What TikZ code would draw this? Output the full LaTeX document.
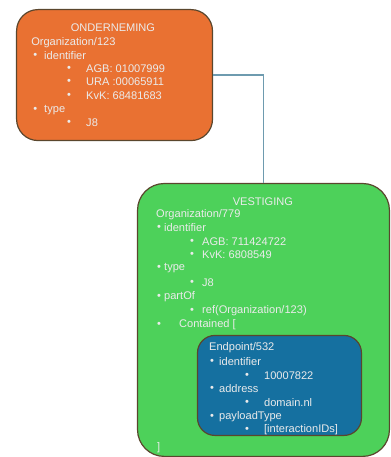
\documentclass[tikz,border=0pt]{standalone}
\usepackage{fontspec}
\setmainfont{Liberation Sans}
\usepackage{xcolor}
\definecolor{ondOrange}{RGB}{233,113,50}
\definecolor{vestGreen}{RGB}{77,209,90}
\definecolor{endpBlue}{RGB}{21,112,160}
\definecolor{boxEdge}{RGB}{90,70,45}
\definecolor{connLine}{RGB}{110,155,175}

\begin{document}
\begin{tikzpicture}[x=0.75pt,y=0.75pt,yscale=-1,xscale=1,
  box/.style={draw=boxEdge, line width=0.9pt, rounded corners=16pt, anchor=north west, inner sep=0pt},
  txt/.style={anchor=west, inner sep=0.75pt, text=white!92!black, font=\fontsize{8.3}{10}\selectfont},
  ttl/.style={txt, anchor=center}]
\path (0,0) rectangle (390,457); %set diagram size 390 x 457

%Rounded Rect [ONDERNEMING]
\node (ond) [box, fill=ondOrange, minimum width=147pt, minimum height=98.25pt] at (16,9) {};
%Rounded Rect [VESTIGING]
\node (vest) [box, fill=vestGreen, rounded corners=20pt, minimum width=189pt, minimum height=204.75pt] at (137,183) {};
%Rounded Rect [Endpoint]
\node (endp) [box, fill=endpBlue, rounded corners=13pt, minimum width=123pt, minimum height=75pt] at (197,335) {};

%Connector
\draw [connLine, line width=0.9pt] (ond.east) -| (vest.north);

% Text Node
\node (ondT) [ttl] at (113,28) {ONDERNEMING};
\node (ondO) [txt] at (30,43) {Organization/123};
\node (ondB1) [txt] at (32,56) {•};
\node (ondI) [txt] at (43,56) {identifier};
\node (ondB2) [txt] at (66,69) {•};
\node (ondAgb) [txt] at (85,69) {AGB: 01007999};
\node (ondB3) [txt] at (66,82) {•};
\node (ondUra) [txt] at (85,82) {URA :00065911};
\node (ondB4) [txt] at (66,96) {•};
\node (ondKvk) [txt] at (85,96) {KvK: 68481683};
\node (ondB5) [txt] at (32,110) {•};
\node (ondTy) [txt] at (43,110) {type};
\node (ondB6) [txt] at (66,123) {•};
\node (ondJ) [txt] at (85,123) {J8};

% Text Node
\node (vestT) [ttl] at (263,202) {VESTIGING};
\node (vestO) [txt] at (155,215) {Organization/779};
\node (vestB1) [txt] at (156,228) {•};
\node (vestI) [txt] at (163,228) {identifier};
\node (vestB2) [txt] at (189,242) {•};
\node (vestAgb) [txt] at (201,242) {AGB: 711424722};
\node (vestB3) [txt] at (189,255) {•};
\node (vestKvk) [txt] at (201,255) {KvK: 6808549};
\node (vestB4) [txt] at (156,268) {•};
\node (vestTy) [txt] at (163,268) {type};
\node (vestB5) [txt] at (189,283) {•};
\node (vestJ) [txt] at (201,283) {J8};
\node (vestB6) [txt] at (156,297) {•};
\node (vestP) [txt] at (163,297) {partOf};
\node (vestB7) [txt] at (189,311) {•};
\node (vestRef) [txt] at (201,311) {ref(Organization/123)};
\node (vestB8) [txt] at (156,325) {•};
\node (vestC) [txt] at (178,325) {Contained [};
\node (vestE) [txt] at (156,448) {]};

% Text Node
\node (endpO) [txt] at (208,348) {Endpoint/532};
\node (endpB1) [txt] at (209,362) {•};
\node (endpI) [txt] at (218,362) {identifier};
\node (endpB2) [txt] at (244,376) {•};
\node (endpId) [txt] at (263,376) {10007822};
\node (endpB3) [txt] at (209,389) {•};
\node (endpA) [txt] at (218,389) {address};
\node (endpB4) [txt] at (244,403) {•};
\node (endpDom) [txt] at (263,403) {domain.nl};
\node (endpB5) [txt] at (209,417) {•};
\node (endpP) [txt] at (218,417) {payloadType};
\node (endpB6) [txt] at (244,430) {•};
\node (endpInt) [txt] at (263,430) {[interactionIDs]};

\end{tikzpicture}
\end{document}
